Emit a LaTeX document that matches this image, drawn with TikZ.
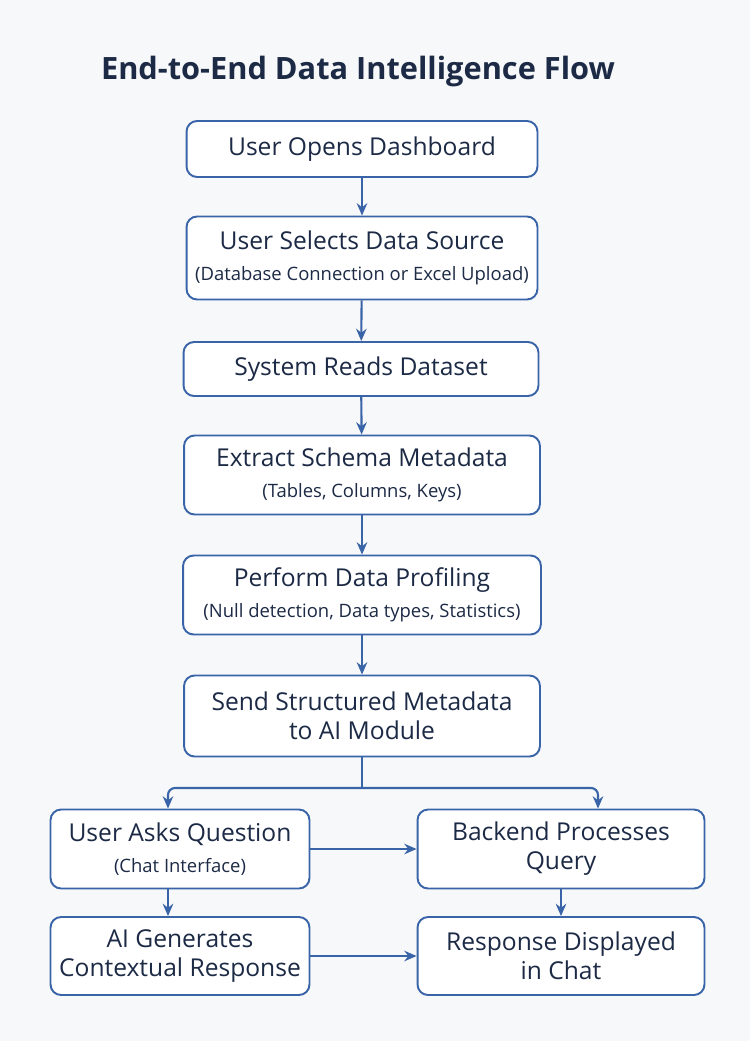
\documentclass[tikz,border=0pt]{standalone}
\usepackage{fontspec}
\setmainfont{Open Sans}
\usetikzlibrary{arrows.meta}
\definecolor{bgc}{HTML}{F7F8FA}
\definecolor{edgec}{HTML}{3A64A8}
\definecolor{txtc}{HTML}{1C2A45}
\newcommand{\subtxt}{\fontsize{10.5}{13}\selectfont}
\tikzset{
  box/.style={draw=edgec, line width=1.1pt, fill=white, rounded corners=6pt,
    text=txtc, align=center, inner sep=0pt, font=\fontsize{14}{16.5}\selectfont},
  flow/.style={-{Stealth[length=7pt,width=6pt]}, draw=edgec, line width=1.2pt},
}
\begin{document}
\begin{tikzpicture}[x=0.02cm,y=-0.02cm]
			\fill[bgc] (0,0) rectangle (750,1041);
			\useasboundingbox (0,0) rectangle (750,1041);
			\node[text=txtc, font=\fontsize{17.5}{20}\selectfont\bfseries] (title) at (358,72) {End-to-End Data Intelligence Flow};

			\node[box, minimum width=7.02cm, minimum height=1.12cm] (open)    at (362,149) {User Opens Dashboard};
			\node[box, minimum width=7.02cm, minimum height=1.66cm] (select)  at (362,258) {User Selects Data Source\\[1pt]{\subtxt(Database Connection or Excel Upload)}};
			\node[box, minimum width=7.10cm, minimum height=1.08cm] (read)    at (361,369) {System Reads Dataset};
			\node[box, minimum width=7.12cm, minimum height=1.58cm] (schema)  at (362,475) {Extract Schema Metadata\\[1pt]{\subtxt(Tables, Columns, Keys)}};
			\node[box, minimum width=7.16cm, minimum height=1.58cm] (profile) at (362,595) {Perform Data Profiling\\[1pt]{\subtxt(Null detection, Data types, Statistics)}};
			\node[box, minimum width=7.12cm, minimum height=1.62cm] (send)    at (362,716) {Send Structured Metadata\\to AI Module};
			\node[box, minimum width=5.18cm, minimum height=1.58cm] (ask)     at (180,849) {User Asks Question\\[1pt]{\subtxt(Chat Interface)}};
			\node[box, minimum width=5.74cm, minimum height=1.58cm] (backend) at (561,849) {Backend Processes\\Query};
			\node[box, minimum width=5.18cm, minimum height=1.56cm] (gen)     at (180,956) {AI Generates\\Contextual Response};
			\node[box, minimum width=5.74cm, minimum height=1.56cm] (resp)    at (561,956) {Response Displayed\\in Chat};

			\coordinate (split) at (362,788);
			\coordinate (splitL) at (168,788);
			\coordinate (splitR) at (598,788);

			\draw[flow] (open) -- (select);
			\draw[flow] (select) -- (read);
			\draw[flow] (read) -- (schema);
			\draw[flow] (schema) -- (profile);
			\draw[flow] (profile) -- (send);
			\draw[draw=edgec, line width=1.2pt] (send) -- (split);
			\draw[flow, rounded corners=4pt] (split) -- (splitL) -- (splitL |- ask.north);
			\draw[flow, rounded corners=4pt] (split) -- (splitR) -- (splitR |- backend.north);
			\draw[flow] (ask) -- (backend);
			\draw[flow] (ask.south -| splitL) -- (gen.north -| splitL);
			\draw[flow] (backend) -- (resp);
			\draw[flow] (gen) -- (resp);
		\end{tikzpicture}
\end{document}
